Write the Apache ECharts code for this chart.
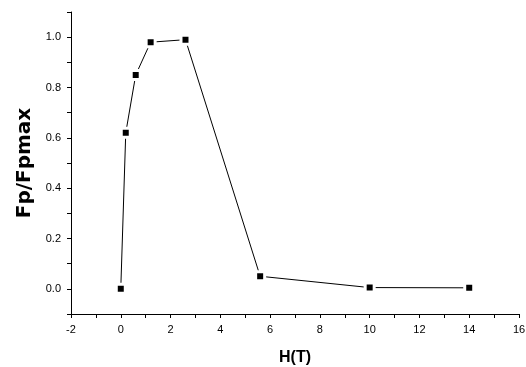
<!DOCTYPE html>
<html><head><meta charset="utf-8">
<script src="https://cdn.jsdelivr.net/npm/echarts@6/dist/echarts.min.js"></script>
<style>html,body{margin:0;padding:0;background:#fff}#c{width:526px;height:367px}</style>
</head><body><div id="c"></div>
<script>
const hValues = [0, 0.2, 0.6, 1.2, 2.6, 5.6, 10, 14];
const fpRatio = [0, 0.62, 0.85, 0.98, 0.99, 0.05, 0.005, 0.004];
const xTicks = [-2, 0, 2, 4, 6, 8, 10, 12, 14, 16];
const yTicks = [0.0, 0.2, 0.4, 0.6, 0.8, 1.0];

const chart = echarts.init(document.getElementById('c'), null, {renderer: 'canvas'});
const axisFont = {fontFamily: 'Liberation Sans, Arial, sans-serif', fontSize: 11, color: '#000'};
chart.setOption({
  animation: false,
  backgroundColor: '#fff',
  grid: {left: 71, right: 7, top: 12, bottom: 53, containLabel: false, outerBoundsMode: 'none'},
  xAxis: {
    type: 'value', min: -2, max: 16, interval: 2,
    name: 'H(T)', nameLocation: 'middle', nameGap: 36,
    nameTextStyle: {fontFamily: 'Liberation Sans, Arial, sans-serif', fontSize: 16, fontWeight: 'bold', color: '#000'},
    axisLine: {onZero: false, lineStyle: {color: '#000', width: 1}},
    axisTick: {show: true, inside: false, length: 4, lineStyle: {color: '#000'}},
    minorTick: {show: true, splitNumber: 2, length: 4, lineStyle: {color: '#000'}},
    splitLine: {show: false},
    axisLabel: Object.assign({margin: 10, formatter: v => xTicks.includes(v) ? String(v) : ''}, axisFont)
  },
  yAxis: {
    type: 'value', min: -0.1, max: 1.1,
    name: 'Fp/Fpmax', nameLocation: 'middle', nameGap: 36, nameRotate: 90,
    nameTextStyle: {fontFamily: 'DejaVu Sans, sans-serif', fontSize: 20, fontWeight: 'bold', color: '#000'},
    axisLine: {onZero: false, lineStyle: {color: '#000', width: 1}},
    axisTick: {show: true, length: 4, lineStyle: {color: '#000'}, customValues: [-0.1,0.1,0.3,0.5,0.7,0.9,1.1].concat(yTicks)},
    axisLabel: Object.assign({margin: 10, customValues: yTicks, formatter: v => v.toFixed(1)}, axisFont),
    splitLine: {show: false}
  },
  series: [{
    type: 'line',
    data: hValues.map((h, i) => [h, fpRatio[i]]),
    symbol: 'rect', symbolSize: 9,
    itemStyle: {color: '#000', borderColor: '#fff', borderWidth: 3},
    lineStyle: {color: '#000', width: 1},
    z: 3
  }]
});
</script></body></html>
